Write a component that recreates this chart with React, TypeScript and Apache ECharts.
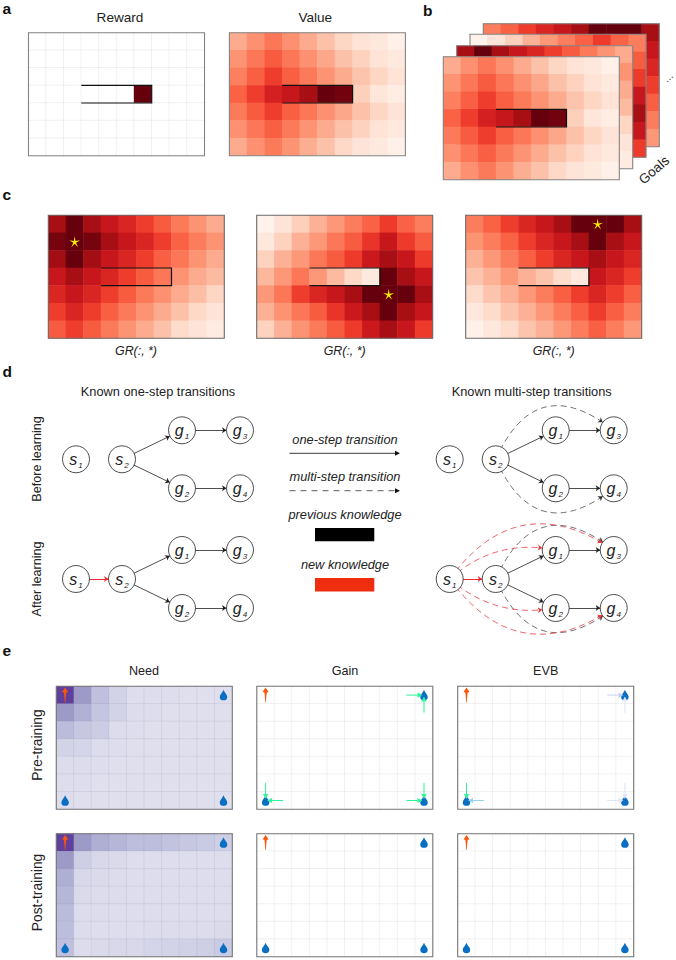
import React, { useEffect, useRef } from "react";
import * as echarts from "echarts";

const COLS = ["0", "1", "2", "3", "4", "5", "6", "7", "8", "9"];
const ROWS = ["0", "1", "2", "3", "4", "5", "6"];

const REWARD = [
  [0, 0, 0, 0, 0, 0, 0, 0, 0, 0],
  [0, 0, 0, 0, 0, 0, 0, 0, 0, 0],
  [0, 0, 0, 0, 0, 0, 0, 0, 0, 0],
  [0, 0, 0, 0, 0, 0, 1, 0, 0, 0],
  [0, 0, 0, 0, 0, 0, 0, 0, 0, 0],
  [0, 0, 0, 0, 0, 0, 0, 0, 0, 0],
  [0, 0, 0, 0, 0, 0, 0, 0, 0, 0],
];
const VALUE = [
  [0.3, 0.38, 0.46, 0.38, 0.3, 0.23, 0.16, 0.11, 0.08, 0.03],
  [0.37, 0.46, 0.54, 0.46, 0.38, 0.31, 0.23, 0.17, 0.11, 0.07],
  [0.43, 0.53, 0.62, 0.53, 0.45, 0.37, 0.3, 0.22, 0.16, 0.11],
  [0.52, 0.62, 0.72, 0.77, 0.87, 1.0, 0.98, 0.18, 0.09, 0.05],
  [0.45, 0.54, 0.62, 0.53, 0.46, 0.38, 0.31, 0.23, 0.16, 0.1],
  [0.38, 0.46, 0.53, 0.45, 0.37, 0.3, 0.23, 0.17, 0.11, 0.07],
  [0.3, 0.38, 0.45, 0.37, 0.29, 0.23, 0.15, 0.1, 0.07, 0.03],
];
const GOAL_A = [
  [0.87, 1.0, 0.87, 0.77, 0.7, 0.62, 0.54, 0.45, 0.37, 0.3],
  [0.97, 1.0, 0.97, 0.87, 0.76, 0.7, 0.62, 0.52, 0.44, 0.37],
  [0.88, 1.0, 0.88, 0.76, 0.7, 0.62, 0.53, 0.46, 0.37, 0.3],
  [0.76, 0.87, 0.76, 0.7, 0.62, 0.54, 0.46, 0.37, 0.3, 0.25],
  [0.7, 0.76, 0.7, 0.62, 0.54, 0.45, 0.38, 0.3, 0.24, 0.16],
  [0.62, 0.7, 0.62, 0.53, 0.45, 0.37, 0.3, 0.23, 0.15, 0.1],
  [0.54, 0.62, 0.54, 0.45, 0.37, 0.3, 0.23, 0.14, 0.1, 0.06],
];
const GOAL_B = [
  [0.02, 0.1, 0.18, 0.28, 0.36, 0.44, 0.52, 0.63, 0.52, 0.44],
  [0.08, 0.17, 0.28, 0.36, 0.46, 0.54, 0.65, 0.77, 0.63, 0.54],
  [0.17, 0.28, 0.36, 0.46, 0.54, 0.63, 0.75, 0.87, 0.76, 0.63],
  [0.26, 0.36, 0.46, 0.36, 0.25, 0.15, 0.07, 1.0, 0.87, 0.76],
  [0.36, 0.46, 0.62, 0.7, 0.77, 0.87, 1.0, 1.0, 1.0, 0.87],
  [0.28, 0.37, 0.46, 0.54, 0.65, 0.75, 0.87, 1.0, 0.87, 0.76],
  [0.17, 0.28, 0.37, 0.45, 0.54, 0.63, 0.75, 0.87, 0.76, 0.63],
];
const GOAL_C = [
  [0.44, 0.52, 0.62, 0.7, 0.77, 0.87, 1.0, 1.0, 1.0, 0.87],
  [0.37, 0.44, 0.52, 0.62, 0.7, 0.76, 0.87, 1.0, 0.87, 0.76],
  [0.28, 0.36, 0.44, 0.53, 0.62, 0.7, 0.76, 0.87, 0.76, 0.7],
  [0.22, 0.28, 0.36, 0.28, 0.22, 0.14, 0.08, 0.76, 0.7, 0.62],
  [0.14, 0.22, 0.28, 0.36, 0.44, 0.53, 0.62, 0.7, 0.62, 0.53],
  [0.08, 0.14, 0.22, 0.28, 0.36, 0.44, 0.53, 0.62, 0.53, 0.44],
  [0.03, 0.08, 0.14, 0.22, 0.28, 0.36, 0.44, 0.53, 0.44, 0.36],
];
const NEED_PRE = [
  [0.8, 0.5, 0.36, 0.28, 0.23, 0.23, 0.23, 0.22, 0.22, 0.22],
  [0.5, 0.42, 0.34, 0.28, 0.24, 0.23, 0.22, 0.22, 0.22, 0.22],
  [0.38, 0.33, 0.31, 0.24, 0.23, 0.22, 0.22, 0.22, 0.22, 0.22],
  [0.28, 0.27, 0.24, 0.23, 0.22, 0.22, 0.22, 0.22, 0.22, 0.22],
  [0.24, 0.24, 0.23, 0.22, 0.22, 0.22, 0.22, 0.22, 0.22, 0.22],
  [0.23, 0.23, 0.22, 0.22, 0.22, 0.22, 0.22, 0.22, 0.22, 0.22],
  [0.23, 0.22, 0.22, 0.22, 0.22, 0.22, 0.22, 0.22, 0.22, 0.22],
];
const NEED_POST = [
  [0.8, 0.5, 0.43, 0.4, 0.37, 0.37, 0.35, 0.33, 0.32, 0.3],
  [0.5, 0.3, 0.26, 0.25, 0.23, 0.23, 0.23, 0.23, 0.23, 0.23],
  [0.43, 0.26, 0.25, 0.24, 0.23, 0.23, 0.23, 0.23, 0.23, 0.23],
  [0.4, 0.25, 0.24, 0.24, 0.23, 0.23, 0.23, 0.23, 0.23, 0.23],
  [0.38, 0.24, 0.24, 0.23, 0.23, 0.23, 0.23, 0.23, 0.23, 0.23],
  [0.37, 0.24, 0.23, 0.23, 0.23, 0.24, 0.24, 0.24, 0.24, 0.25],
  [0.36, 0.24, 0.25, 0.26, 0.26, 0.27, 0.28, 0.29, 0.3, 0.32],
];
const BLANK = [
  [0, 0, 0, 0, 0, 0, 0, 0, 0, 0],
  [0, 0, 0, 0, 0, 0, 0, 0, 0, 0],
  [0, 0, 0, 0, 0, 0, 0, 0, 0, 0],
  [0, 0, 0, 0, 0, 0, 0, 0, 0, 0],
  [0, 0, 0, 0, 0, 0, 0, 0, 0, 0],
  [0, 0, 0, 0, 0, 0, 0, 0, 0, 0],
  [0, 0, 0, 0, 0, 0, 0, 0, 0, 0],
];

const WALL = [[3, 3, 6]];
const AGENT = [[0, 0]];
const DROPS = [[9, 0], [0, 6], [9, 6]];
// fromCol, fromRow, toCol, toRow, strength
const GAIN_ARROWS = [
  [8, 0, 9, 0, 1], [9, 1, 9, 0, 1], [0, 5, 0, 6, 1], [1, 6, 0, 6, 1], [8, 6, 9, 6, 1], [9, 5, 9, 6, 1],
];
const EVB_ARROWS = [
  [8, 0, 9, 0, 0.2], [9, 1, 9, 0, 0.12], [0, 5, 0, 6, 1], [1, 6, 0, 6, 0.5], [8, 6, 9, 6, 0.12], [9, 5, 9, 6, 0.1],
];

const GRAPH_X = [0, 46, 106, 164];
const GRAPH_Y = [0, 29, 58];
const NODE_NAMES = ["s1", "s2", "g1", "g2", "g3", "g4"];
const NODE_COL = [0, 1, 2, 2, 3, 3];
const NODE_ROW = [1, 1, 0, 2, 0, 2];
const ONE_STEP = [["s2", "g1"], ["s2", "g2"], ["g1", "g3"], ["g2", "g4"]];

const REDS = ["#fff5f0", "#fee0d2", "#fcbba1", "#fc9272", "#fb6a4a", "#ef3b2c", "#cb181d", "#a50f15", "#67000d"];
const PURPLES = ["#fcfbfd", "#efedf5", "#dadaeb", "#bcbddc", "#9e9ac8", "#807dba", "#6a51a3", "#54278f", "#3f007d"];
const WHITE_RED = ["#ffffff", "#67000d"];

const FONT = "Liberation Sans";
const STAR =
  "path://M50 0L57.1 40.3L97.6 34.5L61.4 53.7L79.4 90.5L50 62L20.6 90.5L38.6 53.7L2.4 34.5L42.9 40.3Z";
const DROP = "path://M50 0C60 25 92 45 92 68A42 32 0 1 1 8 68C8 45 40 25 50 0Z";
const FISH = "path://M50 0L95 30L68 32L60 62L54 100L46 100L40 62L32 32L5 30Z";

const arrowColor = (s: number) => (s >= 0.9 ? "#2af59a" : s >= 0.4 ? "#93d3f2" : s >= 0.15 ? "#c6d2f6" : "#dfe4fa");

function buildOption() {
  const grid: any[] = [];
  const xAxis: any[] = [];
  const yAxis: any[] = [];
  const series: any[] = [];
  const maps: Record<string, number[]> = { reds: [], purples: [], blank: [] };

  const panel = (
    rect: number[],
    values: number[][],
    map: string,
    z: number,
    extras: { wall?: boolean; star?: number[]; icons?: boolean; arrows?: number[][]; frame?: string } = {}
  ) => {
    const gi = grid.length;
    grid.push({ left: rect[0], top: rect[1], width: 176, height: 123, show: false });
    xAxis.push({ type: "category", data: COLS, gridIndex: gi, show: false });
    yAxis.push({ type: "category", data: ROWS, gridIndex: gi, show: false, inverse: true });
    const ax = { xAxisIndex: gi, yAxisIndex: gi };
    maps[map].push(series.length);
    const cells: number[][] = [];
    values.forEach((row, r) => row.forEach((v, c) => cells.push([c, r, v])));
    series.push({
      type: "heatmap",
      ...ax,
      z,
      silent: true,
      data: cells,
      itemStyle: map === "reds" ? { borderWidth: 0 } : { borderWidth: 0.7, borderColor: "rgba(70,70,90,0.09)" },
      emphasis: { disabled: true },
    });
    if (extras.arrows) {
      series.push({
        type: "custom",
        ...ax,
        z: z + 1,
        silent: true,
        clip: false,
        data: extras.arrows,
        encode: { x: 0, y: 1 },
        renderItem: (_p: any, api: any) => {
          const a = api.coord([api.value(0), api.value(1)]);
          const b = api.coord([api.value(2), api.value(3)]);
          const col = arrowColor(api.value(4));
          const dx = Math.sign(b[0] - a[0]);
          const dy = Math.sign(b[1] - a[1]);
          const tip = [b[0] - dx * 1.5, b[1] - dy * 1.5];
          const base = [tip[0] - dx * 5, tip[1] - dy * 5];
          return {
            type: "group",
            children: [
              { type: "line", shape: { x1: a[0], y1: a[1], x2: base[0], y2: base[1] }, style: { stroke: col, lineWidth: 1 } },
              {
                type: "polygon",
                shape: { points: [tip, [base[0] - dy * 2.6, base[1] - dx * 2.6], [base[0] + dy * 2.6, base[1] + dx * 2.6]] },
                style: { fill: col },
              },
            ],
          };
        },
      });
    }
    if (extras.icons) {
      series.push({
        type: "scatter", ...ax, z: z + 2, silent: true, data: AGENT, symbol: FISH, symbolSize: [6, 15],
        itemStyle: { color: "#f9560d", opacity: 1 },
      });
      series.push({
        type: "scatter", ...ax, z: extras.arrows ? z : z + 2, silent: true, data: DROPS, symbol: DROP, symbolSize: [7.5, 10.5],
        itemStyle: { color: "#0a6fc2", opacity: 1 },
      });
    }
    if (extras.wall) {
      series.push({
        type: "custom",
        ...ax,
        z: z + 3,
        silent: true,
        clip: false,
        data: WALL,
        encode: { x: 0, y: 1 },
        renderItem: (_p: any, api: any) => {
          const s = api.size([1, 1]);
          const a = api.coord([api.value(0), api.value(1)]);
          const b = api.coord([api.value(2), api.value(1)]);
          const l = a[0] - s[0] / 2;
          const r = b[0] + s[0] / 2;
          const t = a[1] - s[1] / 2;
          const d = a[1] + s[1] / 2;
          return {
            type: "polyline",
            shape: { points: [[l, t], [r, t], [r, d], [l, d]] },
            style: { stroke: "#111", fill: "none", lineWidth: 1.2 },
          };
        },
      });
    }
    if (extras.star) {
      series.push({
        type: "scatter", ...ax, z: z + 3, silent: true, data: [extras.star], symbol: STAR, symbolSize: 11,
        itemStyle: { color: "#fff200", opacity: 1 },
      });
    }
    series.push({
      type: "custom",
      ...ax,
      z: z + 4,
      silent: true,
      clip: false,
      data: [[0, 0]],
      encode: { x: 0, y: 1 },
      renderItem: (p: any) => ({
        type: "rect",
        shape: { x: p.coordSys.x, y: p.coordSys.y, width: p.coordSys.width, height: p.coordSys.height },
        style: { stroke: extras.frame || "#858585", fill: "none", lineWidth: 1.1 },
      }),
    });
  };

  // a
  panel([28.5, 32.7], REWARD, "blank", 2, { wall: true });
  panel([229.4, 32.7], VALUE, "reds", 2, { wall: true });
  // b
  panel([483.3, 23.7], GOAL_C, "reds", 10);
  panel([470, 34.3], GOAL_B, "reds", 20);
  panel([456.7, 45.7], GOAL_A, "reds", 30);
  panel([443.3, 56.7], VALUE, "reds", 40, { wall: true });
  // c
  panel([48.3, 215.3], GOAL_A, "reds", 2, { wall: true, star: [1, 1], frame: "#6b6b6b" });
  panel([256.7, 215.3], GOAL_B, "reds", 2, { wall: true, star: [7, 4], frame: "#6b6b6b" });
  panel([465.7, 215.3], GOAL_C, "reds", 2, { wall: true, star: [7, 0], frame: "#6b6b6b" });
  // e
  panel([56.3, 686.3], NEED_PRE, "purples", 2, { icons: true, frame: "#777" });
  panel([256.8, 686.3], BLANK, "blank", 2, { icons: true, arrows: GAIN_ARROWS, frame: "#777" });
  panel([457.7, 686.3], BLANK, "blank", 2, { icons: true, arrows: EVB_ARROWS, frame: "#777" });
  panel([56.3, 833.7], NEED_POST, "purples", 2, { icons: true, frame: "#777" });
  panel([256.8, 833.7], BLANK, "blank", 2, { icons: true, frame: "#777" });
  panel([457.7, 833.7], BLANK, "blank", 2, { icons: true, frame: "#777" });

  // d
  const solidBlack = { color: "#222", width: 0.8, curveness: 0, type: "solid", opacity: 1 };
  const dashBlack = { color: "#333", width: 0.7, type: [6, 4], opacity: 1 };
  const dashRed = { color: "#ea3a3f", width: 0.8, type: [6, 4], opacity: 1 };
  const diagram = (left: number, top: number, links: any[]) => {
    const gi = grid.length;
    grid.push({ left, top, width: 164, height: 58, show: false });
    xAxis.push({ type: "value", gridIndex: gi, show: false, min: 0, max: 164 });
    yAxis.push({ type: "value", gridIndex: gi, show: false, min: 0, max: 58, inverse: true });
    series.push({
      type: "graph",
      coordinateSystem: "cartesian2d",
      xAxisIndex: gi,
      yAxisIndex: gi,
      silent: true,
      layout: "none",
      symbol: "circle",
      symbolSize: 27,
      edgeSymbol: ["none", "arrow"],
      edgeSymbolSize: [0, 4.5],
      itemStyle: { color: "#fff", borderColor: "#222", borderWidth: 0.8, opacity: 1 },
      label: {
        show: true,
        position: "inside",
        color: "#222",
        fontFamily: FONT,
        formatter: (p: any) => `{m|${p.name[0]}}{s|${p.name[1]}}`,
        rich: {
          m: { fontStyle: "italic", fontSize: 16, fontFamily: FONT, color: "#222" },
          s: { fontStyle: "italic", fontSize: 8, fontFamily: FONT, color: "#222", padding: [12, 0, 0, 1] },
        },
      },
      data: NODE_NAMES.map((name, i) => ({ name, value: [GRAPH_X[NODE_COL[i]], GRAPH_Y[NODE_ROW[i]]] })),
      links,
    });
  };
  const oneStepLinks = ONE_STEP.map(([source, target]) => ({ source, target, lineStyle: solidBlack }));
  const newStep = { source: "s1", target: "s2", lineStyle: { ...solidBlack, color: "#ee2a30", width: 1.1 } };
  const dashed = (source: string, target: string, base: any, curveness: number) => ({
    source, target, lineStyle: { ...base, curveness },
  });
  diagram(76, 430.3, oneStepLinks);
  diagram(76, 550, [...oneStepLinks, newStep]);
  diagram(449.7, 430.3, [...oneStepLinks, dashed("s2", "g3", dashBlack, 0.64), dashed("s2", "g4", dashBlack, -0.64)]);
  diagram(449.7, 550, [
    ...oneStepLinks,
    dashed("s2", "g3", dashBlack, 0.64),
    dashed("s2", "g4", dashBlack, -0.64),
    newStep,
    dashed("s1", "g3", dashRed, 0.48),
    dashed("s1", "g1", dashRed, 0.25),
    dashed("s1", "g2", dashRed, -0.24),
    dashed("s1", "g4", dashRed, -0.48),
  ]);

  const text = (t: string, x: number, y: number, size: number, o: any = {}) => ({
    type: "text",
    x,
    y,
    rotation: o.rot || 0,
    z: 100,
    silent: true,
    style: {
      text: t,
      fill: o.fill || "#222",
      textAlign: o.align || "center",
      textVerticalAlign: "middle",
      font: `${o.italic ? "italic " : ""}${o.bold ? "bold " : ""}${size}px "${FONT}"`,
    },
  });
  const bold = { bold: true, align: "left", fill: "#111" };
  const q = Math.PI / 2;
  const graphic = [
    text("a", 2.5, 8, 15.5, bold),
    text("b", 423, 10, 15.5, bold),
    text("c", 2.5, 194, 15.5, bold),
    text("d", 2.5, 371, 15.5, bold),
    text("e", 2.5, 650, 15.5, bold),
    text("Reward", 120, 17.7, 13.6),
    text("Value", 315.3, 17.7, 13.6),
    text("Goals", 654, 170, 13.5, { rot: 0.72 }),
    text("…", 668, 77, 10, { rot: 0.72 }),
    text("GR(:, *)", 136, 351, 12.4, { italic: true }),
    text("GR(:, *)", 344.7, 351, 12.4, { italic: true }),
    text("GR(:, *)", 553.7, 351, 12.4, { italic: true }),
    text("Known one-step transitions", 158, 391, 12.8),
    text("Known multi-step transitions", 531.7, 391, 12.8),
    text("Before learning", 37, 459, 12.6, { rot: q }),
    text("After learning", 37, 579, 12.6, { rot: q }),
    text("one-step transition", 345, 439, 12.8, { italic: true }),
    text("multi-step transition", 345, 476, 12.8, { italic: true }),
    text("previous knowledge", 345, 514, 12.8, { italic: true }),
    text("new knowledge", 345, 564, 12.8, { italic: true }),
    { type: "line", shape: { x1: 289.5, y1: 453.3, x2: 397, y2: 453.3 }, style: { stroke: "#222", lineWidth: 0.9 } },
    { type: "polygon", shape: { points: [[400, 453.3], [395, 450.8], [395, 455.8]] }, style: { fill: "#111" } },
    { type: "line", shape: { x1: 289.5, y1: 490.7, x2: 397, y2: 490.7 }, style: { stroke: "#333", lineWidth: 0.8, lineDash: [6, 5] } },
    { type: "polygon", shape: { points: [[400, 490.7], [395, 488.2], [395, 493.2]] }, style: { fill: "#111" } },
    { type: "rect", shape: { x: 315, y: 528, width: 59.3, height: 13.3 }, style: { fill: "#000" } },
    { type: "rect", shape: { x: 315, y: 578, width: 59.3, height: 13.5 }, style: { fill: "#ee2e0e" } },
    text("Need", 144, 671, 12.6),
    text("Gain", 345, 671, 12.6),
    text("EVB", 545.7, 671, 12.6),
    text("Pre-training", 37.7, 745, 13.8, { rot: q }),
    text("Post-training", 37.7, 892.5, 13.8, { rot: q }),
  ];

  const vm = (seriesIndex: number[], color: string[]) => ({
    type: "continuous", show: false, dimension: 2, min: 0, max: 1, seriesIndex, inRange: { color },
  });

  return {
    animation: false,
    backgroundColor: "#fff",
    textStyle: { fontFamily: FONT },
    grid,
    xAxis,
    yAxis,
    visualMap: [vm(maps.reds, REDS), vm(maps.purples, PURPLES), vm(maps.blank, WHITE_RED)],
    series,
    graphic,
  };
}

export default function App() {
  const ref = useRef<HTMLDivElement>(null);
  useEffect(() => {
    const chart = echarts.init(ref.current!, undefined, { renderer: "svg" });
    chart.setOption(buildOption() as any);
    return () => chart.dispose();
  }, []);
  return <div ref={ref} style={{ position: "absolute", left: 0, top: 0, width: 676, height: 960 }} />;
}
